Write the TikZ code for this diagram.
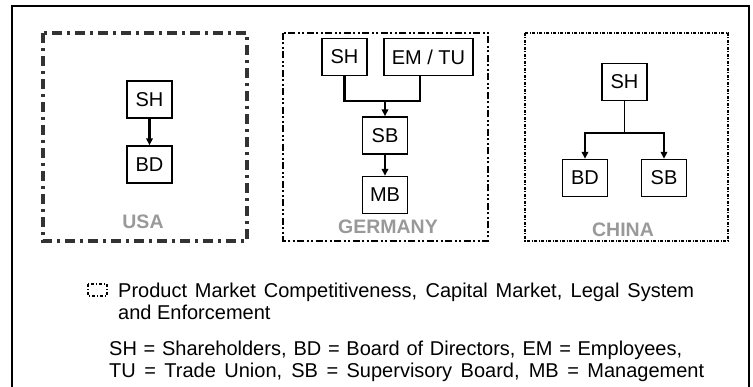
\documentclass[tikz,border=0pt]{standalone}
\usepackage{fontspec}
\setmainfont{Liberation Sans}
\usetikzlibrary{arrows.meta}
\begin{document}
\begin{tikzpicture}
[   x=1pt, y=-1pt,
    org/.style={draw, line width=1.4pt, minimum width=45pt, minimum height=37pt, inner sep=0pt, font=\fontsize{20}{22}\selectfont},
    country/.style={text=black!40, font=\bfseries\fontsize{19.5}{22}\selectfont},
    link/.style={line width=2.2pt, -{Triangle[length=7pt,width=6.5pt]}},
    legend/.style={anchor=west, align=left, inner sep=0pt, font=\fontsize{20}{22}\selectfont}
]
    \useasboundingbox (0,0) rectangle (753,387);
    \draw[line width=2pt] (12,387) -- (12,6) -- (749,6) -- (749,387);

    % country frames
    \draw[black!80, line width=3.4pt, dash pattern=on 10pt off 5pt on 3pt off 5pt] (43,33) rectangle (247,241);
    \draw[line width=2.2pt, dash pattern=on 7pt off 2.5pt on 2pt off 2.5pt on 2pt off 2.5pt] (283,33) rectangle (488,241);
    \draw[line width=1.5pt, dash pattern=on 3pt off 1.5pt on 1pt off 1.5pt] (525,33) rectangle (728,241);

    % USA
    \node[org] (SH1) at (149.5,99.5) {SH};
    \node[org] (BD1) at (149.5,164.5) {BD};
    \node[country] (USA) at (143,222) {USA};
    \draw[link] (SH1) -- (BD1);

    % Germany
    \node[org] (SH2) at (344.5,57) {SH};
    \node[org, minimum width=89pt] (EMTU) at (428.5,57) {EM / TU};
    \node[org] (SB2) at (385,135.5) {SB};
    \node[org] (MB2) at (385,195) {MB};
    \node[country] (GER) at (388,227) {GERMANY};
    \coordinate (J2) at (385,101);
    \draw[line width=2.2pt] (SH2.south) |- (J2) -| (EMTU.south -| 420,0);
    \draw[link] (J2) -- (SB2);
    \draw[link] (SB2) -- (MB2);

    % China
    \node[org] (SH3) at (624.5,82) {SH};
    \node[org] (BD3) at (585,178) {BD};
    \node[org] (SB3) at (664,178) {SB};
    \node[country] (CHN) at (623,230) {CHINA};
    \coordinate (J3) at (624.5,133);
    \draw[line width=1.1pt] (SH3) -- (J3);
    \draw[link] (J3) -| (BD3);
    \draw[link] (J3) -| (SB3);

    % legend
    \draw[line width=1.5pt, dash pattern=on 3pt off 2pt on 1pt off 2pt] (88,284) rectangle (107,296);
    \node[legend] (ENV) at (118,301) {\makebox[576pt][s]{Product Market Competitiveness, Capital Market, Legal System}\\and Enforcement};
    \node[legend] (ABBR) at (109,361) {\makebox[573pt][s]{SH = Shareholders, BD = Board of Directors, EM = Employees,}\\\makebox[595pt][s]{TU = Trade Union, SB = Supervisory Board, MB = Management}};
\end{tikzpicture}
\end{document}
